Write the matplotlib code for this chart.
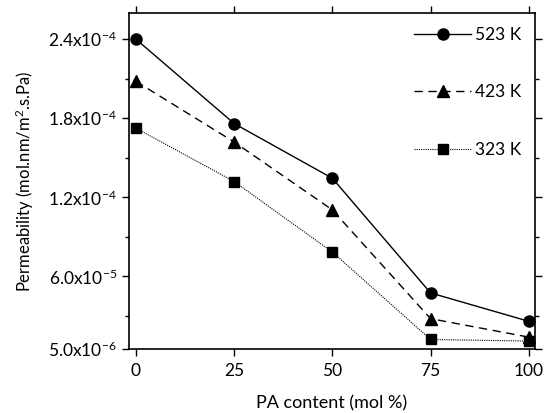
import numpy as np
import matplotlib.pyplot as plt
from matplotlib.ticker import FixedLocator, MultipleLocator

plt.rcParams['font.family'] = ['Lato', 'DejaVu Sans']
plt.rcParams['mathtext.default'] = 'regular'

# data
pa_content = [0, 25, 50, 75, 100]
perm_523 = [2.40e-4, 1.76e-4, 1.345e-4, 4.75e-5, 2.6e-5]
perm_423 = [2.08e-4, 1.62e-4, 1.105e-4, 2.8e-5, 1.4e-5]
perm_323 = [1.725e-4, 1.32e-4, 7.85e-5, 1.22e-5, 1.1e-5]

ytick_vals = [5.0e-6, 6.0e-5, 1.2e-4, 1.8e-4, 2.4e-4]
ytick_labels = ['5.0x10$^{-6}$', '6.0x10$^{-5}$', '1.2x10$^{-4}$',
                '1.8x10$^{-4}$', '2.4x10$^{-4}$']

fig = plt.figure(figsize=(5.46, 4.13), dpi=100)
ax = fig.add_axes([0.236, 0.155, 0.744, 0.814])

ax.plot(pa_content, perm_523, color='black', lw=1, ls='-', marker='o', ms=8, label='523 K')
ax.plot(pa_content, perm_423, color='black', lw=1, ls=(0, (6, 4)), marker='^', ms=8, label='423 K')
ax.plot(pa_content, perm_323, color='black', lw=0.8, ls=(0, (1, 1)), marker='s', ms=7, label='323 K')

ax.set_xlim(-1.8, 101.6)
ax.set_ylim(5.0e-6, 2.6e-4)
ax.set_xticks(pa_content)
ax.yaxis.set_major_locator(FixedLocator(ytick_vals))
ax.set_yticklabels(ytick_labels)
ax.yaxis.set_minor_locator(FixedLocator([3.0e-5, 9.0e-5, 1.5e-4, 2.1e-4]))

for s in ax.spines.values():
    s.set_linewidth(1.2)
ax.tick_params(which='both', direction='out', top=True, right=True,
               labeltop=False, labelright=False, labelsize=12.5, width=1)
ax.tick_params(which='major', length=5)
ax.tick_params(which='minor', length=3)
ax.tick_params(axis='x', pad=5)

ax.set_xlabel('PA content (mol %)', fontsize=13, labelpad=12)
ax.set_ylabel('Permeability (mol.nm/m$^{2}$.s.Pa)', fontsize=12, labelpad=9)

ax.legend(loc='upper right', frameon=False, fontsize=12.5, handlelength=3.3,
          labelspacing=2.4, handletextpad=0.2, borderaxespad=0.4)

fig.savefig('out.png', dpi=100)
